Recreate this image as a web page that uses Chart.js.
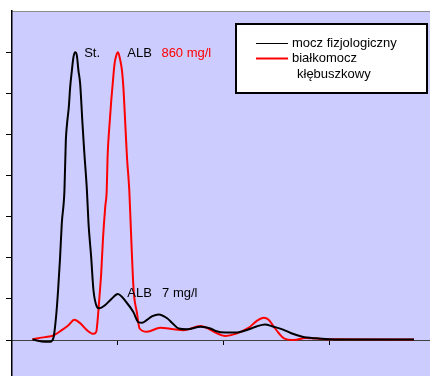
<!DOCTYPE html>
<html>
<head>
<meta charset="utf-8">
<script src="https://cdn.jsdelivr.net/npm/chart.js@4/dist/chart.umd.min.js"></script>
<style>
  body { margin: 0; background: #fff; }
  #wrap { width: 430px; height: 376px; position: relative; }
</style>
</head>
<body>
<div id="wrap"><canvas id="chart"></canvas></div>
<script>
// mocz fizjologiczny (black)
var blackX = [0.194,0.312,0.360,0.391,0.416,0.435,0.454,0.470,0.495,0.508,0.520,0.536,0.549,0.565,0.580,0.596,0.612,0.627,0.643,0.665,0.681,0.707,0.722,0.747,0.769,0.801,0.823,0.880,0.943,0.998,1.085,1.145,1.195,1.227,1.274,1.325,1.384,1.464,1.514,1.573,1.653,1.779,1.873,1.921,2.015,2.110,2.236,2.308,2.387,2.460,2.552,2.630,2.741,2.867,2.992,3.292,3.794]
var blackY = [0.01,-0.04,-0.04,0.05,0.57,1.21,2.02,2.84,3.64,4.85,5.27,5.66,6.15,6.55,6.88,7.00,6.92,6.55,6.24,5.27,4.61,3.64,2.84,2.02,1.21,0.81,0.77,0.85,1.01,1.12,0.90,0.68,0.43,0.42,0.49,0.58,0.62,0.53,0.41,0.28,0.26,0.32,0.28,0.22,0.18,0.18,0.26,0.33,0.38,0.33,0.26,0.17,0.08,0.04,0.02,0.01,0.01]

// białkomocz kłębuszkowy (red)
var redX = [0.192,0.312,0.391,0.470,0.533,0.589,0.643,0.707,0.769,0.795,0.811,0.823,0.842,0.858,0.880,0.894,0.902,0.921,0.937,0.953,0.968,0.984,1.000,1.022,1.038,1.053,1.069,1.085,1.107,1.126,1.148,1.180,1.204,1.274,1.400,1.526,1.621,1.779,1.873,1.921,2.015,2.110,2.236,2.308,2.378,2.422,2.472,2.517,2.567,2.661,2.772,2.961,3.794]
var redY = [0.02,0.07,0.11,0.24,0.36,0.49,0.41,0.24,0.15,0.20,0.57,0.97,1.63,2.43,3.24,3.64,4.45,5.26,5.83,6.31,6.72,6.92,7.00,6.80,6.55,6.07,5.26,4.45,3.64,2.43,1.21,0.65,0.28,0.20,0.30,0.26,0.24,0.34,0.25,0.18,0.10,0.15,0.30,0.46,0.54,0.49,0.32,0.17,0.04,0.00,0.05,0.02,0.01]

var seriesNames = ['mocz fizjologiczny', 'białkomocz', 'kłębuszkowy']

// text labels placed in data units
var noteText = ['St.', 'ALB', '860 mg/l', 'ALB', '7 mg/l']
var noteX = [0.681, 1.088, 1.410, 1.088, 1.416]
var noteY = [6.98, 6.98, 6.98, 1.13, 1.13]
var noteColor = ['#000', '#000', '#ff0000', '#000', '#000']

function pts(xs, ys) {
  return xs.map((x, i) => ({ x: x, y: ys[i] }))
}

var plotBg = {
  id: 'plotBg',
  beforeDraw(chart) {
    var ctx = chart.ctx, a = chart.chartArea
    ctx.save()
    ctx.fillStyle = '#ccccff'
    ctx.fillRect(a.left, a.top, a.right - a.left, a.bottom - a.top)
    ctx.strokeStyle = '#8c8c8c'
    ctx.lineWidth = 1
    ctx.beginPath()
    ctx.moveTo(a.left, a.top + 0.5)
    ctx.lineTo(a.right, a.top + 0.5)
    ctx.stroke()
    ctx.restore()
  },
  afterDraw(chart) {
    var ctx = chart.ctx
    var xs = chart.scales.x, ys = chart.scales.y
    ctx.save()
    ctx.font = '13px "Liberation Sans", Arial, sans-serif'
    ctx.textBaseline = 'middle'
    for (var i = 0; i < noteText.length; i++) {
      ctx.fillStyle = noteColor[i]
      ctx.fillText(noteText[i], xs.getPixelForValue(noteX[i]), ys.getPixelForValue(noteY[i]))
    }
    // legend box
    ctx.fillStyle = '#fff'
    ctx.fillRect(236, 24, 191, 69)
    ctx.strokeStyle = '#000'
    ctx.lineWidth = 2
    ctx.strokeRect(236, 24, 191, 69)
    ctx.lineWidth = 1
    ctx.beginPath()
    ctx.moveTo(256, 43.5)
    ctx.lineTo(288, 43.5)
    ctx.stroke()
    ctx.strokeStyle = '#ff0000'
    ctx.lineWidth = 2
    ctx.beginPath()
    ctx.moveTo(256, 58.5)
    ctx.lineTo(288, 58.5)
    ctx.stroke()
    ctx.fillStyle = '#000'
    ctx.fillText(seriesNames[0], 292, 43)
    ctx.fillText(seriesNames[1], 292, 58)
    ctx.fillText(seriesNames[2], 297, 74)
    ctx.restore()
  }
}

var data = {
  datasets: [
    {
      label: seriesNames[0],
      data: pts(blackX, blackY),
      borderColor: '#000',
      borderWidth: 2,
      pointRadius: 0,
      cubicInterpolationMode: 'monotone'
    },
    {
      label: seriesNames[1] + ' ' + seriesNames[2],
      data: pts(redX, redY),
      borderColor: '#ff0000',
      borderWidth: 2,
      pointRadius: 0,
      cubicInterpolationMode: 'monotone'
    }
  ]
}

var ctx = document.getElementById('chart').getContext('2d')
var chart = new Chart(ctx, {
  type: 'line',
  data: data,
  plugins: [plotBg],
  options: {
    responsive: true,
    maintainAspectRatio: false,
    animation: false,
    layout: { padding: { left: 6, top: 11, right: 0, bottom: 0 } },
    plugins: {
      legend: { display: false },
      tooltip: { enabled: false }
    },
    scales: {
      x: {
        type: 'linear',
        min: 0,
        max: 3.945,
        position: { y: 0 },
        afterBuildTicks: s => { s.ticks = [1, 2, 3].map(v => ({ value: v })) },
        ticks: { display: false },
        grid: { drawOnChartArea: false, tickLength: 4, color: '#000', tickColor: '#000' },
        border: { color: '#404040', width: 1 }
      },
      y: {
        min: -0.875,
        max: 8,
        afterBuildTicks: s => { s.ticks = [0, 1, 2, 3, 4, 5, 6, 7].map(v => ({ value: v })) },
        ticks: { display: false },
        grid: { drawOnChartArea: false, tickLength: 6, color: '#000', tickColor: '#000' },
        border: { color: '#000', width: 1.5 }
      }
    }
  }
})
</script>
</body>
</html>
